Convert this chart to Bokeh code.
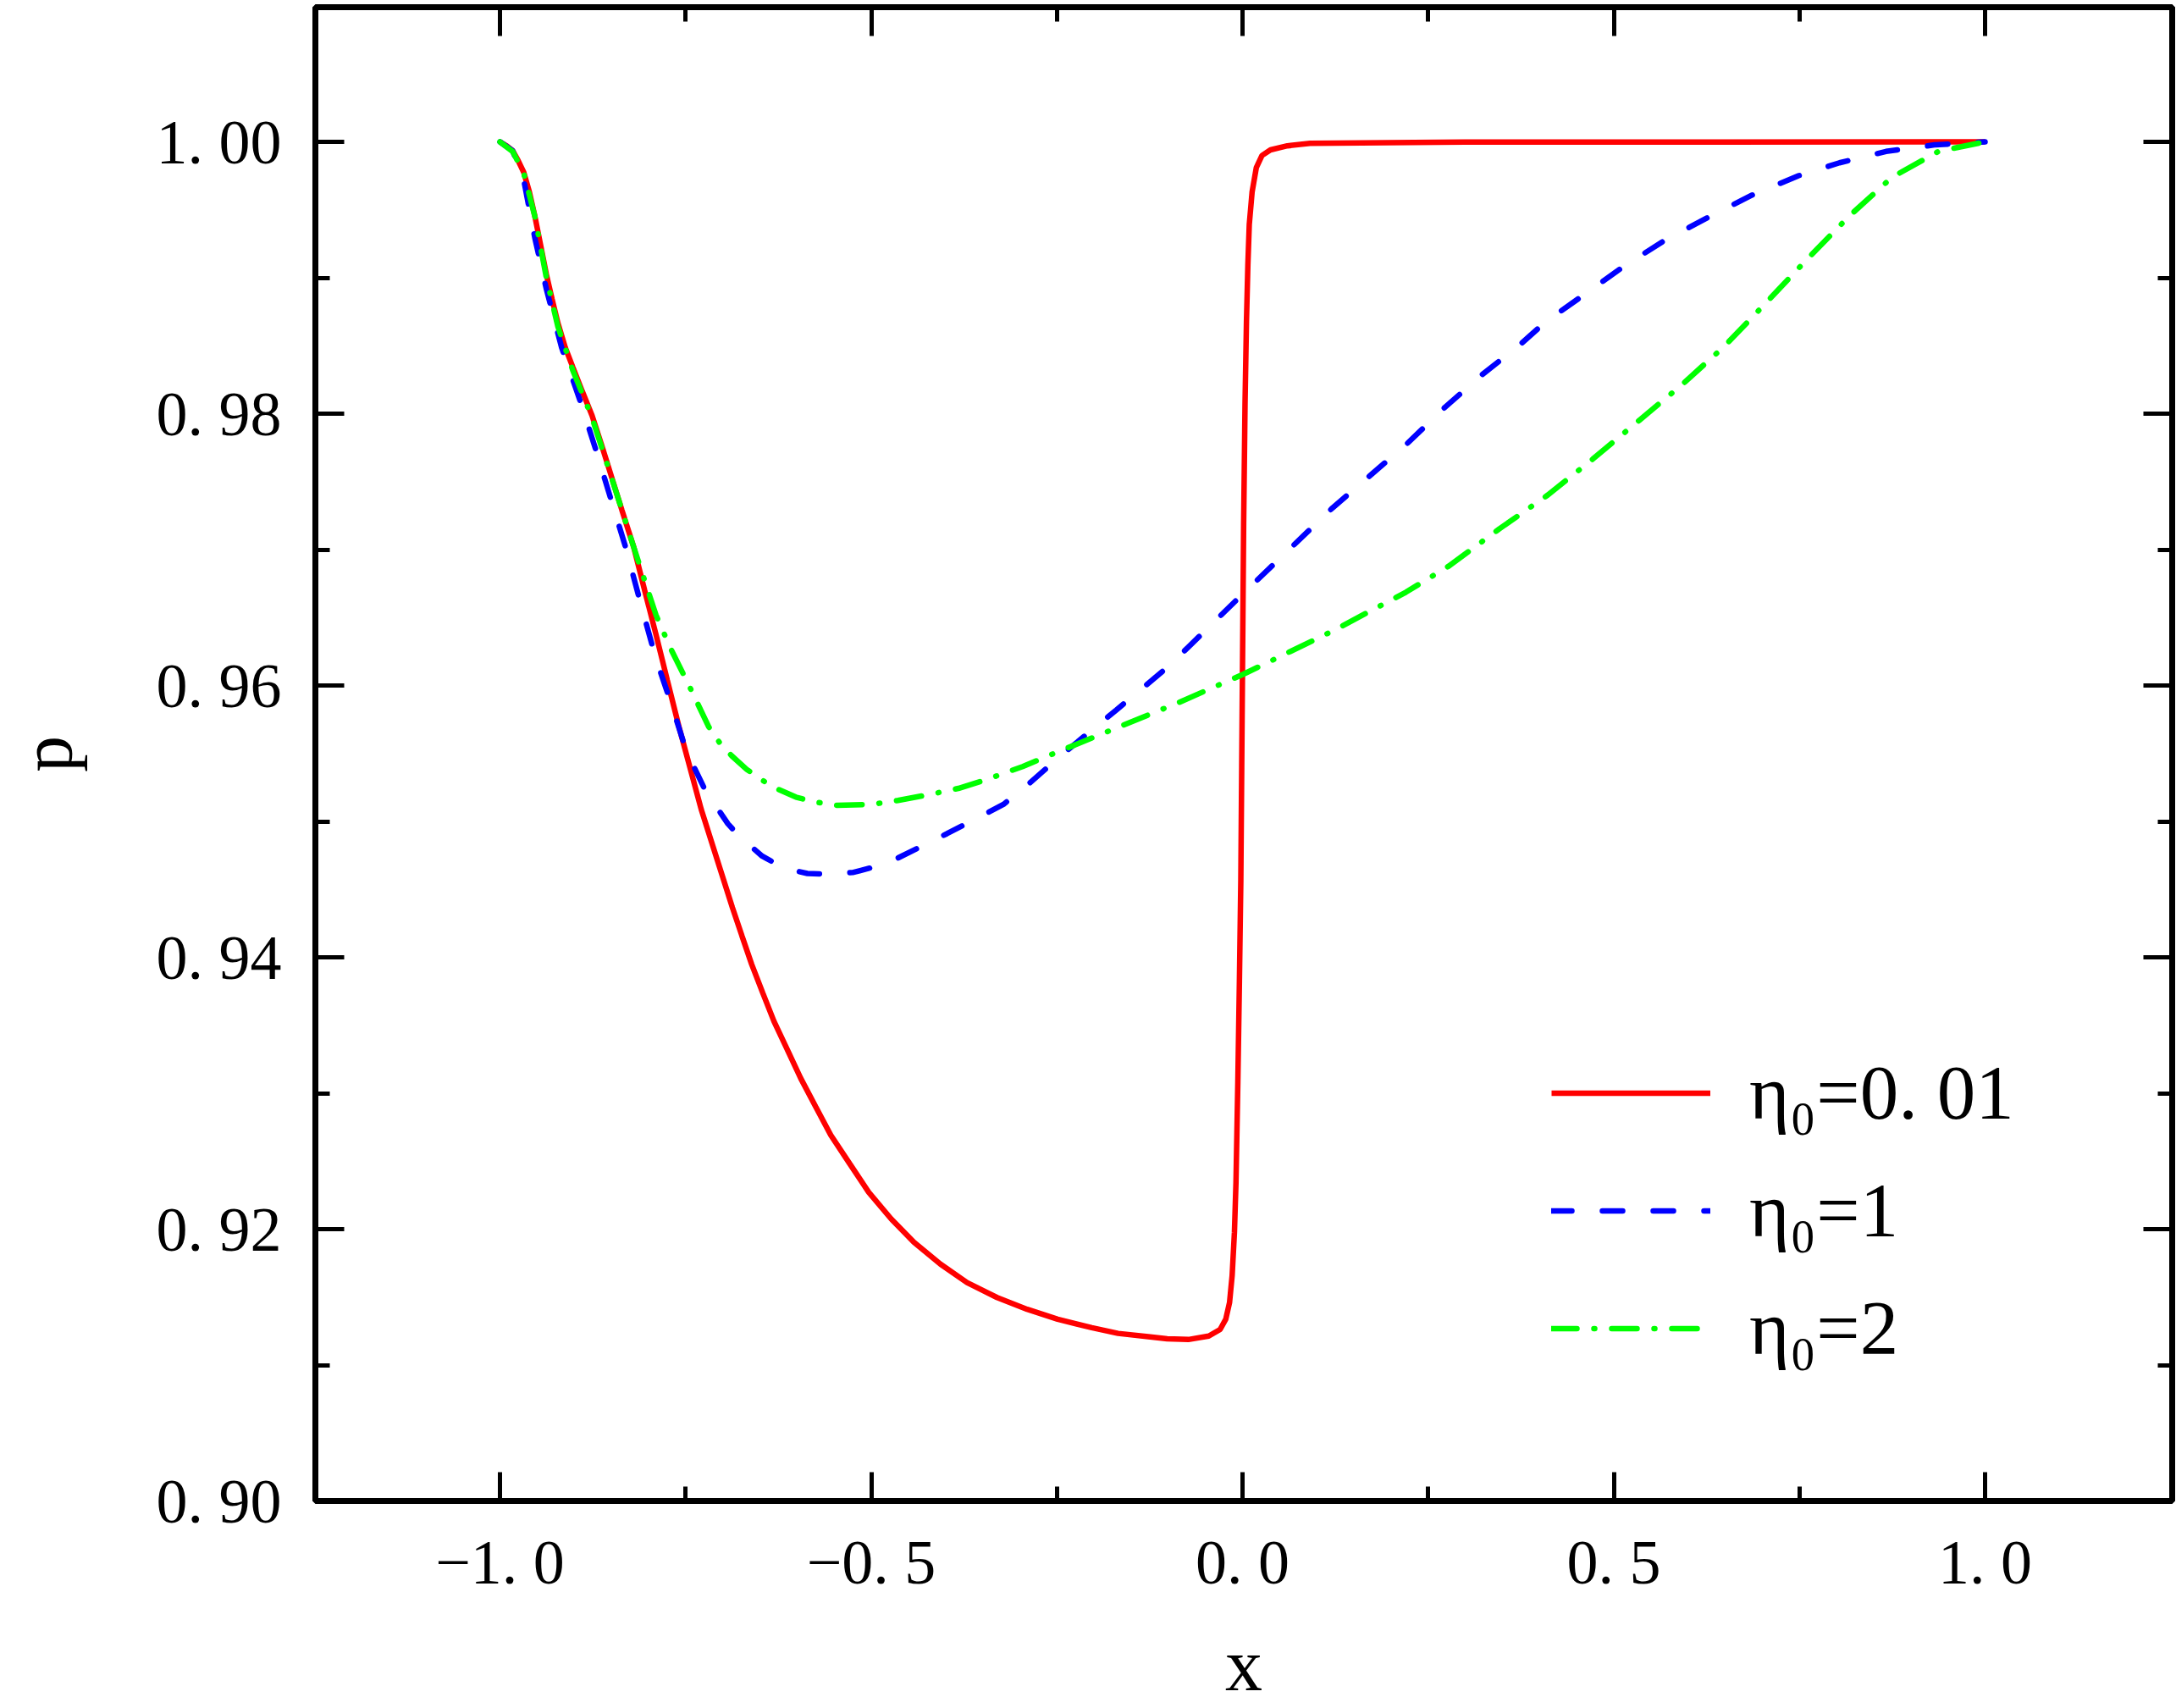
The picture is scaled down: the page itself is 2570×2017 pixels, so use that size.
from bokeh.plotting import figure
from bokeh.models import (Range1d, LinearAxis, FixedTicker, Legend, LegendItem,
                          CustomJSTickFormatter)
from bokeh.embed import file_html
from bokeh.resources import INLINE

# ---------------- data ----------------
x_red = [-1.000, -0.991, -0.983, -0.9757, -0.968, -0.9604, -0.953, -0.9452, -0.9375,
         -0.9299, -0.922, -0.9121, -0.902, -0.8892, -0.876, -0.8637, -0.851, -0.8357,
         -0.820, -0.8051, -0.790, -0.7746, -0.759, -0.744, -0.729, -0.714, -0.687,
         -0.6741, -0.661, -0.6461, -0.631, -0.613, -0.595, -0.5748, -0.5545, -0.5291,
         -0.5035, -0.4731, -0.4425, -0.4069, -0.371, -0.3306, -0.290, -0.249, -0.203,
         -0.1676, -0.127, -0.1015, -0.073, -0.0455, -0.0302, -0.0226, -0.0175, -0.014,
         -0.0109, -0.0088, -0.0063, -0.0042, -0.0023, -0.0011, 0.0015, 0.0034, 0.0053,
         0.0072, 0.0091, 0.0129, 0.0186, 0.0262, 0.0376, 0.0604, 0.0909, 0.300, 1.000]
p_red = [1.0000, 0.99971, 0.99936, 0.99864, 0.99776, 0.99632, 0.99453, 0.99238, 0.99024,
         0.98845, 0.98667, 0.98487, 0.98344, 0.98165, 0.97986, 0.97779, 0.97557, 0.97289,
         0.97021, 0.96699, 0.96377, 0.96037, 0.95697, 0.95393, 0.95089, 0.9483, 0.94366,
         0.94157, 0.93948, 0.93738, 0.93529, 0.9332, 0.9311, 0.92901, 0.92692, 0.92482,
         0.92272, 0.92075, 0.91903, 0.91743, 0.91607, 0.91497, 0.9141, 0.91337, 0.91275,
         0.91233, 0.91209, 0.91193, 0.91188, 0.91213, 0.91262, 0.91337, 0.91459, 0.91657,
         0.91977, 0.92346, 0.93085, 0.93824, 0.94564, 0.95398, 0.97187, 0.98081, 0.98678,
         0.99095, 0.99393, 0.99632, 0.99811, 0.99900, 0.99941, 0.99971, 0.99989, 0.99998, 1.0]

x_blue = [-1.000, -0.983, -0.968, -0.953, -0.9375, -0.917, -0.892, -0.871, -0.851,
          -0.831, -0.810, -0.790, -0.770, -0.749, -0.724, -0.693, -0.678, -0.647,
          -0.617, -0.586, -0.556, -0.525, -0.4946, -0.464, -0.4335, -0.398, -0.3623,
          -0.322, -0.2859, -0.245, -0.170, -0.099, 0.0015, 0.121, 0.2201, 0.2724,
          0.3221, 0.3718, 0.4086, 0.4583, 0.5132, 0.5682, 0.6258, 0.686, 0.7488,
          0.8039, 0.8666, 0.932, 1.0]
p_blue = [1.0000, 0.99936, 0.9972, 0.99292, 0.98916, 0.98487, 0.98094, 0.97736, 0.97378,
          0.97021, 0.96592, 0.96198, 0.95876, 0.95518, 0.95233, 0.94982, 0.94893, 0.94745,
          0.94655, 0.94617, 0.94612, 0.94624, 0.94667, 0.94731, 0.94814, 0.9491, 0.9501,
          0.95125, 0.95286, 0.95483, 0.9582, 0.96144, 0.9668, 0.97306, 0.97772, 0.98046,
          0.98285, 0.98499, 0.98678, 0.98869, 0.99083, 0.99274, 0.99441, 0.99608, 0.99751,
          0.99846, 0.9993, 0.99978, 1.0]

x_green = [-1.000, -0.983, -0.968, -0.953, -0.9375, -0.922, -0.902, -0.876, -0.851,
           -0.820, -0.790, -0.770, -0.744, -0.719, -0.7033, -0.688, -0.6677, -0.647,
           -0.627, -0.6015, -0.576, -0.5455, -0.4998, -0.4641, -0.4234, -0.3827, -0.347,
           -0.2961, -0.245, -0.0859, 0.0015, 0.121, 0.2201, 0.2776, 0.3457, 0.4112,
           0.4714, 0.5342, 0.5918, 0.6494, 0.7017, 0.7593, 0.8169, 0.8745, 0.9373, 1.0]
p_green = [1.0000, 0.9993, 0.9977, 0.9945, 0.9900, 0.9864, 0.9832, 0.9797, 0.9755,
           0.9702, 0.9652, 0.9627, 0.95984, 0.95697, 0.95572, 0.95483, 0.95383, 0.95304,
           0.9524, 0.95179, 0.95143, 0.95118, 0.95125, 0.95154, 0.95196, 0.95243, 0.95304,
           0.95404, 0.9552, 0.95875, 0.96084, 0.9640, 0.96687, 0.96878, 0.97152, 0.97402,
           0.97665, 0.97951, 0.98213, 0.98499, 0.98797, 0.99131, 0.99453, 0.99739, 0.9993, 1.0]

series_labels = ["η₀=0. 01", "η₀=1", "η₀=2"]

x_major = [-1.0, -0.5, 0.0, 0.5, 1.0]
x_minor = [-0.75, -0.25, 0.25, 0.75]
x_tick_labels = ["−1. 0", "−0. 5", "0. 0", "0. 5", "1. 0"]
y_major = [0.90, 0.92, 0.94, 0.96, 0.98, 1.00]
y_minor = [0.91, 0.93, 0.95, 0.97, 0.99]
y_tick_labels = ["0. 90", "0. 92", "0. 94", "0. 96", "0. 98", "1. 00"]

# ---------------- figure ----------------
FONT = "Liberation Serif"
p = figure(width=2570, height=2017, output_backend="svg", toolbar_location=None,
           x_range=Range1d(-1.2486, 1.252), y_range=Range1d(0.90, 1.00991),
           min_border_left=372, min_border_right=5, min_border_top=8,
           min_border_bottom=245, x_axis_label="x", y_axis_label="p")
p.background_fill_color = "white"
p.border_fill_color = "white"
p.xgrid.visible = False
p.ygrid.visible = False
p.outline_line_color = "black"
p.outline_line_width = 7

LW = 6.5
r_red = p.line(x_red, p_red, line_color="#ff0000", line_width=LW)
r_blue = p.line(x_blue, p_blue, line_color="#0000ff", line_width=LW,
                line_dash="24 36", line_cap="round")
r_green = p.line(x_green, p_green, line_color="#00ff00", line_width=LW,
                 line_dash="30 20 1 20", line_cap="round")

xt = FixedTicker(ticks=x_major, minor_ticks=x_minor)
yt = FixedTicker(ticks=y_major, minor_ticks=y_minor)


def style_axis(ax, ticker):
    ax.ticker = ticker
    ax.axis_line_color = None
    ax.major_tick_in = 34
    ax.major_tick_out = 0
    ax.minor_tick_in = 17
    ax.minor_tick_out = 0
    ax.major_tick_line_width = 5
    ax.minor_tick_line_width = 5
    ax.major_tick_line_color = "black"
    ax.minor_tick_line_color = "black"


xa = p.xaxis[0]
style_axis(xa, xt)
xa.major_label_overrides = {v: s for v, s in zip(x_major, x_tick_labels)}
xa.major_label_text_font = FONT
xa.major_label_text_font_size = "74px"
xa.major_label_text_color = "black"
xa.major_label_standoff = 31
xa.axis_label_text_font = FONT
xa.axis_label_text_font_size = "88px"
xa.axis_label_text_font_style = "normal"
xa.axis_label_text_color = "black"
xa.axis_label_standoff = 29

ya = p.yaxis[0]
style_axis(ya, yt)
ya.major_label_overrides = {v: s for v, s in zip(y_major, y_tick_labels)}
ya.major_label_text_font = FONT
ya.major_label_text_font_size = "74px"
ya.major_label_text_color = "black"
ya.major_label_standoff = 40
ya.axis_label_text_font = FONT
ya.axis_label_text_font_size = "86px"
ya.axis_label_text_font_style = "normal"
ya.axis_label_text_color = "black"
ya.axis_label_standoff = 79

blank = CustomJSTickFormatter(code="return '';")
top = LinearAxis(formatter=blank, major_label_standoff=0, major_label_text_font_size="0px")
style_axis(top, xt)
right = LinearAxis(formatter=blank, major_label_standoff=0, major_label_text_font_size="0px")
style_axis(right, yt)
p.add_layout(top, "above")
p.add_layout(right, "right")

legend = Legend(items=[LegendItem(label=series_labels[0], renderers=[r_red]),
                       LegendItem(label=series_labels[1], renderers=[r_blue]),
                       LegendItem(label=series_labels[2], renderers=[r_green])],
                location=(1460, 134), orientation="vertical",
                glyph_width=188, glyph_height=139, label_height=139,
                label_standoff=46, spacing=0, padding=0, margin=0,
                border_line_color=None, background_fill_alpha=0,
                label_text_font=FONT, label_text_font_size="91px",
                label_text_color="black")
p.add_layout(legend, "center")

open("out.html", "w").write(file_html(p, INLINE))
